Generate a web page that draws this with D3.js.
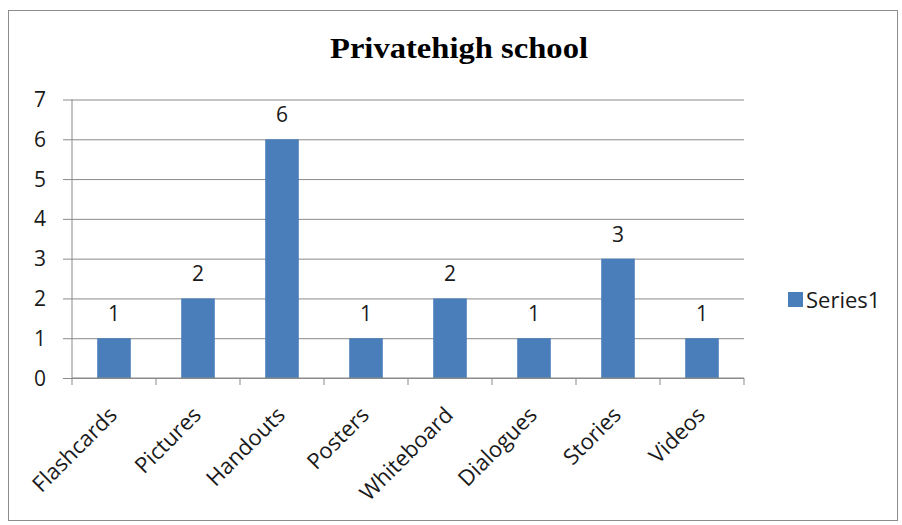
<!DOCTYPE html>
<html>
<head>
<meta charset="utf-8">
<script src="https://cdn.jsdelivr.net/npm/d3@7/dist/d3.min.js"></script>
<style>
  html, body { margin: 0; padding: 0; background: #fff; }
  svg { display: block; }
</style>
</head>
<body>
<script>
// Chart data
const categories = ["Flashcards", "Pictures", "Handouts", "Posters", "Whiteboard", "Dialogues", "Stories", "Videos"];
const values = [1, 2, 6, 1, 2, 1, 3, 1];
const yTicks = [0, 1, 2, 3, 4, 5, 6, 7];
const seriesName = "Series1";
const chartTitle = "Privatehigh school";

const W = 902, H = 525;
const svg = d3.select("body").append("svg").attr("width", W).attr("height", H);

// Outer chart frame
svg.append("rect")
  .attr("x", 8.5).attr("y", 10.5)
  .attr("width", 889).attr("height", 510)
  .attr("fill", "#fff").attr("stroke", "#8c8c8c").attr("stroke-width", 1);

const plot = { left: 72, right: 744, top: 99.5, bottom: 378 };

const x = d3.scaleBand()
  .domain(categories)
  .range([plot.left, plot.right])
  .paddingInner(0.6)
  .paddingOuter(0.3);

const y = d3.scaleLinear().domain([0, 7]).range([plot.bottom, plot.top]);

const gridColor = "#8a8a8a";
const labelFont = "'Open Sans', Lato, 'DejaVu Sans', sans-serif";
const textColor = "#1a1a1a";

// Horizontal gridlines with left tick marks
const yAxis = d3.axisLeft(y)
  .tickValues(yTicks)
  .tickSize(-(plot.right - plot.left))
  .tickPadding(0)
  .tickFormat("");
const gy = svg.append("g").attr("transform", `translate(${plot.left},0)`).call(yAxis);
gy.select(".domain").remove();
gy.selectAll(".tick line").attr("stroke", gridColor).attr("x1", -9).attr("stroke-width", 1);

// Y tick labels
svg.append("g").selectAll("text")
  .data(yTicks)
  .join("text")
  .attr("x", 46)
  .attr("y", d => y(d))
  .attr("dy", "0.36em")
  .attr("text-anchor", "end")
  .attr("font-family", labelFont)
  .attr("font-size", 21)
  .attr("fill", textColor)
  .text(d => d);

// Vertical axis line
svg.append("line")
  .attr("x1", plot.left).attr("x2", plot.left)
  .attr("y1", y(7)).attr("y2", plot.bottom)
  .attr("stroke", gridColor);

// Bars
svg.append("g").selectAll("rect")
  .data(values)
  .join("rect")
  .attr("x", (d, i) => x(categories[i]))
  .attr("y", d => y(d))
  .attr("width", x.bandwidth())
  .attr("height", d => y(0) - y(d))
  .attr("fill", "#4a7ebb");

// Category axis baseline and boundary ticks
svg.append("line")
  .attr("x1", plot.left).attr("x2", plot.right)
  .attr("y1", plot.bottom).attr("y2", plot.bottom)
  .attr("stroke", gridColor);
const step = x.step();
const boundaries = d3.range(categories.length + 1).map(i => plot.left + i * step);
svg.append("g").selectAll("line")
  .data(boundaries)
  .join("line")
  .attr("x1", d => d).attr("x2", d => d)
  .attr("y1", plot.bottom).attr("y2", plot.bottom + 7)
  .attr("stroke", gridColor);

// Rotated category labels
svg.append("g").selectAll("text")
  .data(categories)
  .join("text")
  .attr("transform", d => `translate(${x(d) + x.bandwidth() / 2 - 1},${plot.bottom + 33}) rotate(-45)`)
  .attr("text-anchor", "end")
  .attr("dy", "0.35em")
  .attr("font-family", labelFont)
  .attr("font-size", 22)
  .attr("fill", textColor)
  .text(d => d);

// Value labels above bars
svg.append("g").selectAll("text")
  .data(values)
  .join("text")
  .attr("x", (d, i) => x(categories[i]) + x.bandwidth() / 2)
  .attr("y", d => y(d) - 17)
  .attr("text-anchor", "middle")
  .attr("font-family", labelFont)
  .attr("font-size", 21)
  .attr("fill", textColor)
  .text(d => d);

// Title
svg.append("text")
  .attr("x", 459)
  .attr("y", 58)
  .attr("text-anchor", "middle")
  .attr("font-family", "'Liberation Serif', 'DejaVu Serif', serif")
  .attr("font-weight", "bold")
  .attr("font-size", 30)
  .attr("textLength", 258)
  .attr("lengthAdjust", "spacingAndGlyphs")
  .attr("fill", "#000")
  .text(chartTitle);

// Legend
const legend = svg.append("g");
legend.append("rect")
  .attr("x", 788).attr("y", 292)
  .attr("width", 15).attr("height", 15)
  .attr("fill", "#4a7ebb");
legend.append("text")
  .attr("x", 806).attr("y", 308)
  .attr("font-family", labelFont)
  .attr("font-size", 22)
  .attr("fill", textColor)
  .text(seriesName);
</script>
</body>
</html>
